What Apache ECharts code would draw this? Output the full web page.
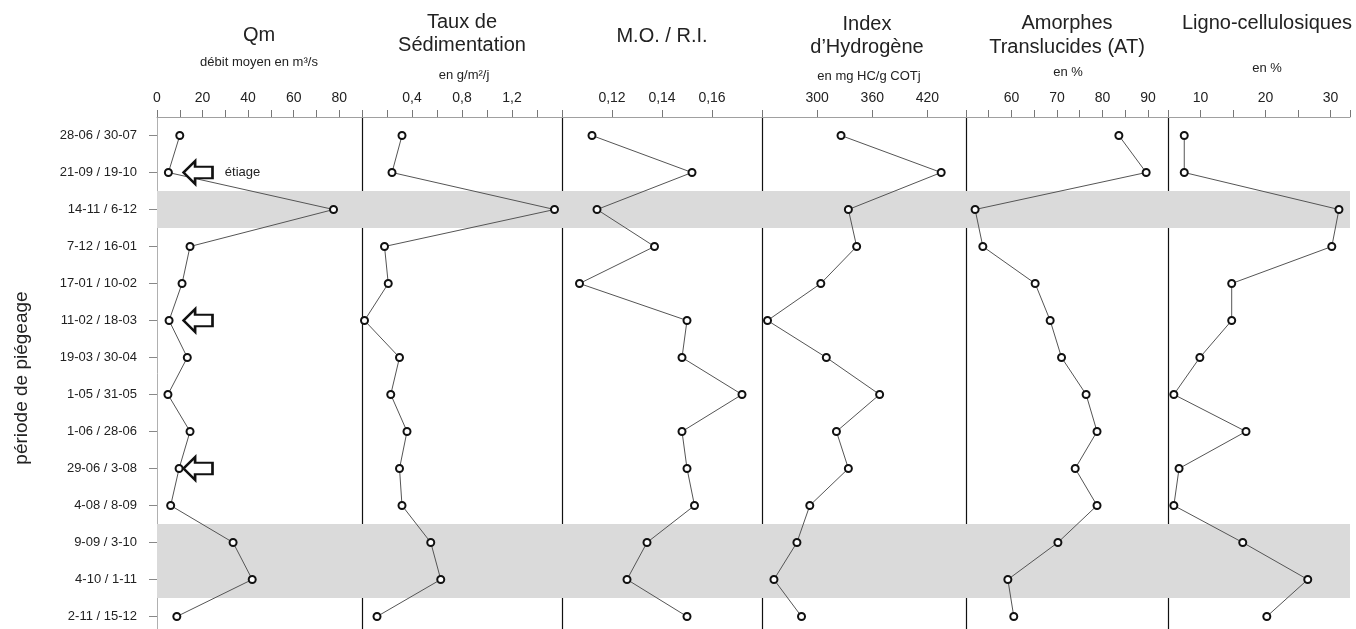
<!DOCTYPE html>
<html><head><meta charset="utf-8">
<script src="https://cdn.jsdelivr.net/npm/echarts@6/dist/echarts.min.js"></script>
<style>html,body{margin:0;padding:0;background:#fff}#c{width:1356px;height:629px}</style>
</head><body><div id="c"></div>
<script>
// ---- data ----
const periods = ['28-06 / 30-07','21-09 / 19-10','14-11 / 6-12','7-12 / 16-01','17-01 / 10-02','11-02 / 18-03','19-03 / 30-04','1-05 / 31-05','1-06 / 28-06','29-06 / 3-08','4-08 / 8-09','9-09 / 3-10','4-10 / 1-11','2-11 / 15-12'];
const shadedRows = ['14-11 / 6-12','9-09 / 3-10','4-10 / 1-11'];
const arrowRows = ['21-09 / 19-10','11-02 / 18-03','29-06 / 3-08'];
const qm    = [10, 5, 77.5, 14.5, 11, 5.3, 13.3, 4.8, 14.5, 9.7, 6, 33.4, 41.8, 8.7];
const taux  = [0.32, 0.24, 1.54, 0.18, 0.21, 0.02, 0.30, 0.23, 0.36, 0.30, 0.32, 0.55, 0.63, 0.12];
const moRi  = [0.112, 0.152, 0.114, 0.137, 0.107, 0.150, 0.148, 0.172, 0.148, 0.150, 0.153, 0.134, 0.126, 0.150];
const ih    = [326, 435, 334, 343, 304, 246, 310, 368, 321, 334, 292, 278, 253, 283];
const at    = [83.6, 89.6, 52, 53.7, 65.2, 68.5, 71, 76.4, 78.8, 74, 78.8, 70.2, 59.2, 60.5];
const ligno = [7.5, 7.5, 31.3, 30.2, 14.8, 14.8, 9.9, 5.9, 17, 6.7, 5.9, 16.5, 26.5, 20.2];
const qmTicks    = [0, 20, 40, 60, 80];
const tauxTicks  = [0.4, 0.8, 1.2];
const moRiTicks  = [0.12, 0.14, 0.16];
const ihTicks    = [300, 360, 420];
const atTicks    = [60, 70, 80, 90];
const lignoTicks = [10, 20, 30];

// ---- layout ----
const FONT = '"Liberation Sans", Arial, Helvetica, sans-serif';
const TOP = 117, HEIGHT = 518;
const panels = [
  {data: qm,    ticks: qmTicks,    dec: 0, min: 0,    max: 90,   interval: 10,   left: 157,  width: 205},
  {data: taux,  ticks: tauxTicks,  dec: 1, min: 0,    max: 1.6,  interval: 0.2,  left: 362,  width: 200},
  {data: moRi,  ticks: moRiTicks,  dec: 2, min: 0.10, max: 0.18, interval: 0.02, left: 562,  width: 200},
  {data: ih,    ticks: ihTicks,    dec: 0, min: 240,  max: 462,  interval: 60,   left: 762,  width: 204},
  {data: at,    ticks: atTicks,    dec: 0, min: 50,   max: 94.4, interval: 5,    left: 966,  width: 202},
  {data: ligno, ticks: lignoTicks, dec: 0, min: 5,    max: 33,   interval: 5,    left: 1168, width: 182}
];

const grids = [{left: 157, width: 1193, top: TOP, height: HEIGHT, outerBoundsMode: 'none', containLabel: false}];
const xAxes = [{gridIndex: 0, type: 'value', min: 0, max: 1, show: false}];
const yAxes = [{
  gridIndex: 0, type: 'category', data: periods, inverse: true,
  axisLine: {show: true, lineStyle: {color: '#b0b0b0', width: 1}},
  axisTick: {show: true, alignWithLabel: true, length: 8, lineStyle: {color: '#888'}},
  axisLabel: {fontSize: 13, color: '#222', margin: 20, fontFamily: FONT},
  splitLine: {show: false}
}];
const series = [{
  type: 'bar', xAxisIndex: 0, yAxisIndex: 0, silent: true, z: 1,
  data: periods.map(p => shadedRows.includes(p) ? 1 : '-'),
  barWidth: '100%', itemStyle: {color: '#dadada'}
}];

panels.forEach((p, i) => {
  const gi = i + 1;
  grids.push({left: p.left, width: p.width, top: TOP, height: HEIGHT, outerBoundsMode: 'none', containLabel: false});
  xAxes.push({
    gridIndex: gi, type: 'value', position: 'top',
    min: p.min, max: p.max, interval: p.interval,
    axisLine: {show: true, lineStyle: {color: '#a0a0a0', width: 1}},
    axisTick: {show: true, length: 7, lineStyle: {color: '#777'}},
    splitLine: {show: false},
    axisLabel: {
      fontSize: 14, color: '#222', margin: 12, fontFamily: FONT,
      showMinLabel: true, showMaxLabel: true,
      formatter: v => p.ticks.some(t => Math.abs(t - v) < 1e-6) ? v.toFixed(p.dec).replace('.', ',') : ''
    }
  });
  yAxes.push({
    gridIndex: gi, type: 'category', data: periods, inverse: true,
    show: i > 0,
    axisLine: {show: true, lineStyle: {color: '#111', width: 1.2}},
    axisTick: {show: false}, axisLabel: {show: false}, splitLine: {show: false}
  });
  const s = {
    type: 'line', xAxisIndex: gi, yAxisIndex: gi, z: 3,
    data: p.data.map((v, j) => [v, periods[j]]),
    symbol: 'emptyCircle', symbolSize: 7,
    lineStyle: {color: '#555', width: 1},
    itemStyle: {color: '#111', borderColor: '#111', borderWidth: 3},
    emphasis: {disabled: true}
  };
  if (i === 0) {
    s.markPoint = {
      symbol: 'path://M0,14L12,0L12,7L30,7L30,21L12,21L12,28Z',
      symbolSize: [29, 23],
      itemStyle: {color: '#fff', borderColor: '#111', borderWidth: 2.4},
      label: {show: false},
      data: arrowRows.map((r, k) => ({
        coord: [18, r],
        label: k === 0 ? {show: true, formatter: 'étiage', position: 'right', distance: 11, fontSize: 13, color: '#222', fontFamily: FONT} : {show: false}
      }))
    };
  }
  series.push(s);
});

const txt = (text, x, y, size, extra) => Object.assign({
  type: 'text', x: x, y: y,
  style: {text: text, fontSize: size, fontFamily: FONT, fill: '#222', align: 'center', verticalAlign: 'middle', textAlign: 'center', textVerticalAlign: 'middle'}
}, extra || {});

const graphic = [
  txt('Qm', 259, 35, 20),
  txt('débit moyen en m³/s', 259, 62, 13),
  txt('Taux de', 462, 22, 20),
  txt('Sédimentation', 462, 45, 20),
  txt('en g/m²/j', 464, 75, 13),
  txt('M.O. / R.I.', 662, 36, 20),
  txt('Index', 867, 24, 20),
  txt('d’Hydrogène', 867, 47, 20),
  txt('en mg HC/g COTj', 869, 76, 13),
  txt('Amorphes', 1067, 23, 20),
  txt('Translucides (AT)', 1067, 47, 20),
  txt('en %', 1068, 72, 13),
  txt('Ligno-cellulosiques', 1267, 23, 20),
  txt('en %', 1267, 68, 13),
  txt('période de piégeage', 22, 378, 19, {rotation: Math.PI / 2})
];

const chart = echarts.init(document.getElementById('c'), null, {renderer: 'canvas'});
chart.setOption({
  animation: false,
  backgroundColor: '#fff',
  textStyle: {fontFamily: FONT},
  grid: grids, xAxis: xAxes, yAxis: yAxes, series: series, graphic: graphic
});
</script>
</body></html>
